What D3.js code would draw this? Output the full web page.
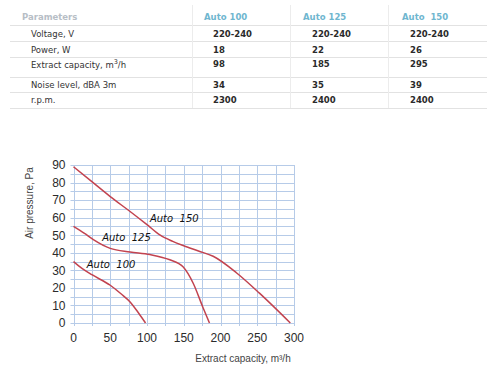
<!DOCTYPE html>
<html>
<head>
<meta charset="utf-8">
<script src="https://cdn.jsdelivr.net/npm/d3@7"></script>
<style>
  html, body { margin: 0; padding: 0; background: #fff; }
  svg { display: block; }
</style>
</head>
<body>
<svg id="area" width="500" height="369"></svg>
<script>
// table data
const tableHeader = ['Parameters', 'Auto 100', 'Auto 125', 'Auto  150'];
const paramLabels = ['Voltage, V', 'Power, W', 'Extract capacity, m3/h', 'Noise level, dBA 3m', 'r.p.m.'];
const auto100Specs = ['220-240', '18', '98', '34', '2300'];
const auto125Specs = ['220-240', '22', '185', '35', '2400'];
const auto150Specs = ['220-240', '26', '295', '39', '2400'];

// chart data (flow m3/h, pressure Pa)
const flow100 = [0, 12, 25, 50, 65, 77, 88, 98];
const pressure100 = [35, 31, 27.5, 21.5, 16.5, 12, 6, 0];
const flow125 = [0, 15, 27, 50, 77, 104, 131, 149, 163, 176, 185];
const pressure125 = [55, 51, 47.5, 42.5, 40.5, 39, 36, 32, 22.5, 9, 0];
const flow150 = [0, 25, 50, 77, 100, 118, 135, 150, 170, 190, 222, 253, 295];
const pressure150 = [89, 80.5, 72, 63.5, 56, 50, 46.5, 44, 41, 38, 28.5, 17, 0];

const xTicks = [0, 50, 100, 150, 200, 250, 300];
const yTicks = [0, 10, 20, 30, 40, 50, 60, 70, 80, 90];

const curveLabels = [
  { name: 'Auto 100', x: 18, y: 33.5 },
  { name: 'Auto 125', x: 39, y: 49 },
  { name: 'Auto 150', x: 104, y: 60 }
];

const svg = d3.select('#area');

// ---- table
const rowLines = [25, 41, 57, 77, 92, 108];
const rowBase = [36.5, 52.5, 68, 87.5, 103];
const colX = [31, 213, 312, 410];
const headX = [22, 204, 303, 402];

const table = svg.append('g').style('font-family', '"DejaVu Sans", Verdana, sans-serif');

table.append('g')
  .attr('stroke', '#e2e2e2')
  .selectAll('line')
  .data(rowLines)
  .join('line')
  .attr('x1', 10)
  .attr('x2', 487)
  .attr('y1', (d) => d + 0.5)
  .attr('y2', (d) => d + 0.5);

table.append('g')
  .attr('stroke', '#ececec')
  .selectAll('line')
  .data([192, 290, 388])
  .join('line')
  .attr('x1', (d) => d + 0.5)
  .attr('x2', (d) => d + 0.5)
  .attr('y1', 5)
  .attr('y2', 108);

table.append('g')
  .selectAll('text')
  .data(tableHeader)
  .join('text')
  .attr('x', (d, i) => headX[i])
  .attr('y', 19.5)
  .attr('xml:space', 'preserve')
  .style('font-size', '8.5px')
  .style('font-weight', 'bold')
  .style('fill', (d, i) => (i === 0 ? '#b7bec6' : '#6fb6cf'))
  .text((d) => d);

const labels = table.append('g')
  .selectAll('text')
  .data(paramLabels)
  .join('text')
  .attr('x', colX[0])
  .attr('y', (d, i) => rowBase[i])
  .style('font-size', '8.5px')
  .style('fill', '#333');

labels.each(function (d) {
  const t = d3.select(this);
  if (d.includes('m3/h')) {
    t.append('tspan').text('Extract capacity, m');
    t.append('tspan').attr('dy', -4).style('font-size', '6.5px').text('3');
    t.append('tspan').attr('dy', 4).text('/h');
  } else {
    t.text(d);
  }
});

[auto100Specs, auto125Specs, auto150Specs].forEach((col, ci) => {
  table.append('g')
    .selectAll('text')
    .data(col)
    .join('text')
    .attr('x', colX[ci + 1])
    .attr('y', (d, i) => (i === 2 ? 66.5 : rowBase[i]))
    .style('font-size', '8.5px')
    .style('font-weight', 'bold')
    .style('fill', '#2a2a2a')
    .text((d) => d);
});

// ---- chart
const x = d3.scaleLinear([0, 300], [73.5, 294]);
const y = d3.scaleLinear([0, 90], [323, 165]);

const grid = svg.append('g').attr('stroke', '#b6cbe8').attr('stroke-width', 1);

grid.selectAll('.h')
  .data(d3.range(0, 91, 5))
  .join('line')
  .attr('class', 'h')
  .attr('x1', x(0) - 3)
  .attr('x2', x(300))
  .attr('y1', (d) => Math.round(y(d)) + 0.5)
  .attr('y2', (d) => Math.round(y(d)) + 0.5);

grid.selectAll('.v')
  .data(d3.range(0, 301, 25))
  .join('line')
  .attr('class', 'v')
  .attr('x1', (d) => Math.round(x(d)) + 0.5)
  .attr('x2', (d) => Math.round(x(d)) + 0.5)
  .attr('y1', y(90))
  .attr('y2', y(0) + 3);

// tick labels
svg.append('g')
  .style('font', '12px "Liberation Sans", Arial, sans-serif')
  .style('fill', '#2b2b2b')
  .selectAll('text')
  .data(yTicks)
  .join('text')
  .attr('x', x(0) - 8)
  .attr('y', (d) => y(d) + 4.3)
  .attr('text-anchor', 'end')
  .text((d) => d);

svg.append('g')
  .style('font', '12px "Liberation Sans", Arial, sans-serif')
  .style('fill', '#2b2b2b')
  .selectAll('text')
  .data(xTicks)
  .join('text')
  .attr('x', (d) => x(d))
  .attr('y', 342)
  .attr('text-anchor', 'middle')
  .text((d) => d);

// axis titles
svg.append('text')
  .attr('transform', 'translate(33,203) rotate(-90)')
  .attr('text-anchor', 'middle')
  .style('font', '10px "Liberation Sans", Arial, sans-serif')
  .style('fill', '#444')
  .text('Air pressure, Pa');

svg.append('text')
  .attr('x', 243)
  .attr('y', 362)
  .attr('text-anchor', 'middle')
  .style('font', '10px "Liberation Sans", Arial, sans-serif')
  .style('fill', '#444')
  .text('Extract capacity, m³/h');

// curves
const line = d3.line()
  .x((d) => x(d[0]))
  .y((d) => y(d[1]))
  .curve(d3.curveMonotoneX);

const series = [
  d3.zip(flow100, pressure100),
  d3.zip(flow125, pressure125),
  d3.zip(flow150, pressure150)
];

svg.append('g')
  .attr('fill', 'none')
  .attr('stroke', '#c2434f')
  .attr('stroke-width', 1.5)
  .selectAll('path')
  .data(series)
  .join('path')
  .attr('d', line);

// curve labels
svg.append('g')
  .style('font', 'italic 10px "DejaVu Sans", sans-serif')
  .style('fill', '#111')
  .selectAll('text')
  .data(curveLabels)
  .join('text')
  .attr('x', (d) => x(d.x))
  .attr('y', (d) => y(d.y) + 4)
  .attr('xml:space', 'preserve')
  .text((d) => d.name.replace(' ', '  '));
</script>
</body>
</html>
